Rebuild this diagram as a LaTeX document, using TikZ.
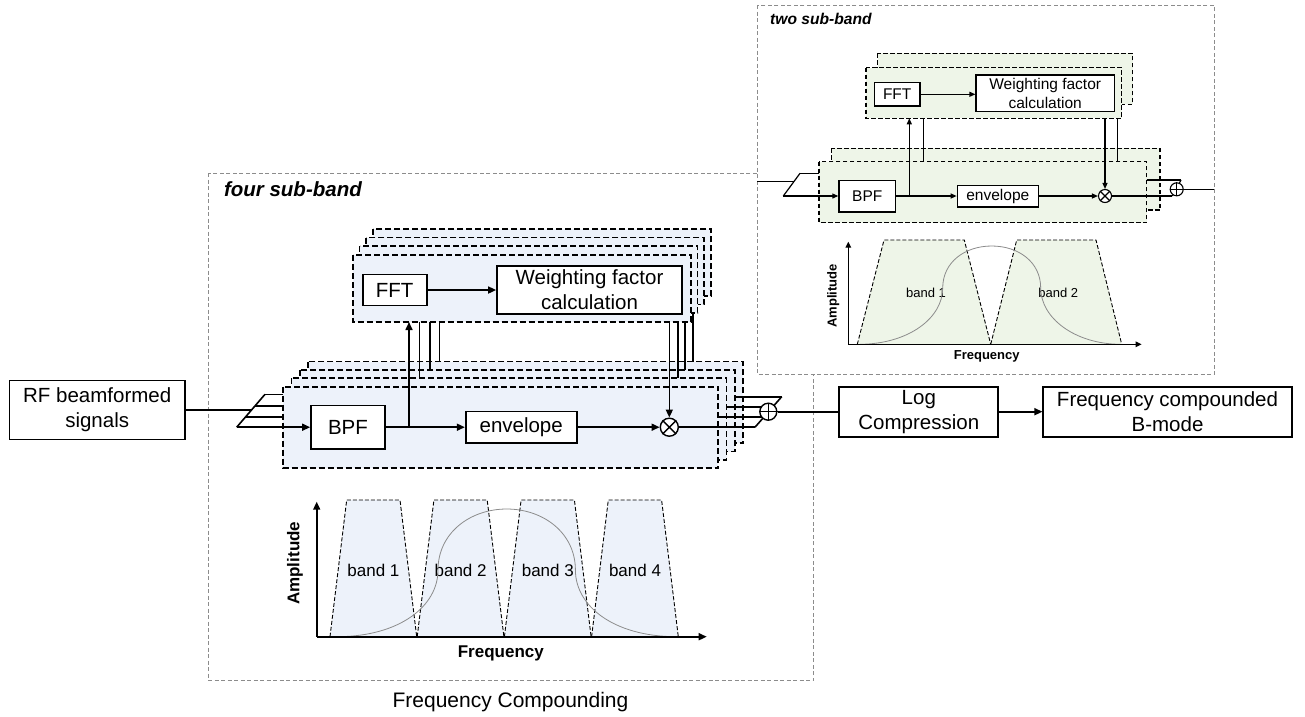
\documentclass[tikz,border=0pt]{standalone}
\usepackage{fontspec}
\setmainfont{Liberation Sans}
\usetikzlibrary{arrows.meta}
\definecolor{bluefill}{HTML}{EDF2FA}
\definecolor{greenfill}{HTML}{EEF5E8}
\definecolor{outergray}{HTML}{8C8C8C}
\definecolor{curvegray}{HTML}{8C8C8C}
\tikzset{
 outerbox/.style={draw=outergray, line width=0.9pt, dash pattern=on 4pt off 2.5pt},
 stackB/.style={fill=bluefill, draw=black, line width=1.7pt, dash pattern=on 6pt off 3pt},
 stackG/.style={fill=greenfill, draw=black, line width=1.3pt, dash pattern=on 4.5pt off 2.5pt},
 fnbig/.style={draw, fill=white, line width=1.7pt, inner sep=0pt, align=center, font=\fontsize{20.5}{25}\selectfont},
 fnsmall/.style={draw, fill=white, line width=1.3pt, inner sep=0pt, align=center, font=\fontsize{15.5}{18.5}\selectfont},
 wire/.style={line width=1.6pt},
 arr/.style={wire, -{Triangle[length=8pt,width=7pt]}},
 wires/.style={line width=1.2pt},
 arrs/.style={wires, -{Triangle[length=6pt,width=5pt]}},
 opbig/.style={circle, draw, fill=white, line width=1.4pt, inner sep=0pt},
 opsmall/.style={circle, draw, fill=white, line width=1.1pt, inner sep=0pt, minimum size=13pt},
 bandline/.style={draw=black, line width=0.9pt, dash pattern=on 4pt off 2pt},
 gauss/.style={draw=curvegray, line width=0.8pt},
 axisbig/.style={line width=1.6pt, -{Triangle[length=8pt,width=7pt]}},
 axissmall/.style={line width=1.3pt, -{Triangle[length=6pt,width=5.5pt]}},
 lblbig/.style={font=\fontsize{17}{20}\selectfont},
 lblsmall/.style={font=\fontsize{13}{16}\selectfont},
}
\begin{document}
\begin{tikzpicture}[x=1pt,y=-1pt]
\useasboundingbox (0,0) rectangle (1305,716);

% ================= four sub-band =================
\draw[outerbox] (208.5,173) rectangle (813.5,680.5);
\node[anchor=base west, font=\fontsize{20.5}{24}\selectfont\bfseries\itshape] (t4) at (220.5,196) {four sub-band};
\node[font=\fontsize{21}{25}\selectfont] (fc) at (510.5,701.7) {Frequency Compounding};

% lower stack
\foreach \i in {3,2,1,0}
  \draw[stackB] ({283.3+8.3*\i},{386.7-8.4*\i}) rectangle ({718.3+8.3*\i},{468.3-8.4*\i});

% vertical connections between stacks
\coordinate (u1) at (419.3,300); \coordinate (l1) at (419.3,378.3);
\coordinate (u2) at (430,300);   \coordinate (l2) at (430,369.9);
\coordinate (u3) at (439.3,300); \coordinate (l3) at (439.3,361.5);
\coordinate (u4) at (677.7,300); \coordinate (l4) at (677.7,378.3);
\coordinate (u5) at (685,300);   \coordinate (l5) at (685,369.9);
\coordinate (u6) at (692.7,300); \coordinate (l6) at (692.7,361.5);
\foreach \k in {1,...,6} \draw[wire] (u\k) -- (l\k);

% upper stack
\foreach \i in {3,2,1,0}
  \draw[stackB] ({352.7+6.8*\i},{255-8.7*\i}) rectangle ({690.7+6.8*\i},{322-8.7*\i});

% function nodes
\node[fnbig, minimum width=175.7pt, minimum height=59pt] (rf) at (97.2,410) {RF beamformed\\signals};
\node[fnbig, minimum width=64pt, minimum height=31pt] (fft4) at (394.7,290) {FFT};
\node[fnbig, minimum width=185pt, minimum height=48pt] (w4) at (589.5,290) {Weighting factor\\calculation};
\node[fnbig, minimum width=74pt, minimum height=43.3pt] (bpf4) at (348,427.2) {BPF};
\node[fnbig, minimum width=111pt, minimum height=31.7pt] (env4) at (521.2,427.2) {envelope};
\node[opbig, minimum size=18pt] (mul4) at (669.3,427.2) {};
\draw[line width=1.4pt] (mul4.north west) -- (mul4.south east) (mul4.north east) -- (mul4.south west);
\node[fnbig, minimum width=159pt, minimum height=50pt] (log) at (918.8,411.7) {Log\\Compression};
\node[fnbig, minimum width=248.4pt, minimum height=50pt] (out) at (1167.5,411.7) {Frequency compounded\\B-mode};

\draw[arr] (fft4.east) -- (w4.west |- fft4.east);

% input splitter
\coordinate (j4) at (251.3,410);
\coordinate (in4a) at (265,394.3);
\coordinate (in4d) at (236.7,427.2);
\draw[wire] (rf.east) -- (j4);
\draw[wire] (in4a) -- (in4d);
\draw[wire] (in4a) -- (283.3,394.3);
\draw[wire] (255.3,405.7) -- (283.3,405.7);
\draw[wire] (246,416.7) -- (283.3,416.7);
\draw[arr] (in4d) -- (bpf4.west);

% main path
\coordinate (br4) at (409,427.2);
\coordinate (fftin4) at (409,322);
\coordinate (wout4) at (669.3,322);
\draw[arr] (bpf4.east) -- (env4.west);
\draw[arr] (br4) -- (fftin4);
\draw[arr] (env4.east) -- (mul4.west);
\draw[arr] (wout4) -- (mul4.north);

% output combiner
\coordinate (s4a) at (781.7,396.7);
\coordinate (s4d) at (755,427.2);
\draw[wire] (mul4.east) -- (s4d);
\draw[wire] (s4a) -- (s4d);
\draw[wire] (734.9,396.7) -- (s4a);
\draw[wire] (726.6,406.7) -- (772.9,406.7);
\draw[wire] (718.3,416.7) -- (763.9,416.7);
\node[opbig, minimum size=17pt] (sum4) at (768.3,411.7) {};
\draw[line width=1.4pt] (sum4.north) -- (sum4.south) (sum4.west) -- (sum4.east);
\draw[wire] (sum4.east) -- (log.west);
\draw[arr] (log.east) -- (out.west);

% chart (four bands)
\foreach \k/\t in {0/band 1,1/band 2,2/band 3,3/band 4}{
  \pgfmathsetmacro\bl{330+87.2*\k}
  \draw[bandline, fill=bluefill] (\bl,636.7) -- (\bl+16.7,500) -- (\bl+70,500) -- (\bl+86.7,636.7);
  \node[lblbig] (b4\k) at (\bl+43.4,570) {\t};
}
\draw[gauss] (338,636.7) .. controls (400,636.2) and (438,606) .. (438,570)
  .. controls (438,533) and (470,509) .. (506.7,509)
  .. controls (543.4,509) and (575.4,533) .. (575.4,570)
  .. controls (575.4,606) and (613.4,636.2) .. (675.4,636.7);
\coordinate (o4) at (316.7,636.7);
\coordinate (ya4) at (316.7,501.7);
\coordinate (xa4) at (706.7,636.7);
\draw[axisbig] (o4) -- (ya4);
\draw[axisbig] (o4) -- (xa4);
\node[font=\fontsize{17}{20}\selectfont\bfseries, rotate=90] (amp4) at (295,563.3) {Amplitude};
\node[font=\fontsize{17}{20}\selectfont\bfseries] (fq4) at (500.8,653.3) {Frequency};

% ================= two sub-band =================
\draw[outerbox, fill=white] (757.3,5) rectangle (1214.3,374.3);
\node[anchor=base west, font=\fontsize{15.6}{19}\selectfont\bfseries\itshape] (t2) at (766.7,24) {two sub-band};

\draw[stackG] (831.7,148.3) rectangle (1160,210);
\draw[stackG] (819,161.7) rectangle (1146.7,222.7);
\coordinate (v1a) at (923.3,110); \coordinate (v1b) at (923.3,161.7);
\coordinate (v2a) at (1117.7,110); \coordinate (v2b) at (1117.7,161.7);
\draw[wires] (v1a) -- (v1b);
\draw[wires] (v2a) -- (v2b);
\draw[stackG] (877.7,53.3) rectangle (1132.7,104.3);
\draw[stackG] (866,67.7) rectangle (1121.7,118.3);

\node[fnsmall, minimum width=45.7pt, minimum height=23.4pt] (fft2) at (897.2,94.3) {FFT};
\node[fnsmall, minimum width=138.3pt, minimum height=36.7pt] (w2) at (1045.2,93.3) {Weighting factor\\calculation};
\node[fnsmall, minimum width=56.7pt, minimum height=31.7pt] (bpf2) at (867.3,196) {BPF};
\node[fnsmall, minimum width=81pt, minimum height=21.7pt] (env2) at (997.8,196) {envelope};
\node[opsmall] (mul2) at (1105,196) {};
\draw[line width=1.1pt] (mul2.north west) -- (mul2.south east) (mul2.north east) -- (mul2.south west);

\draw[arrs] (fft2.east) -- (w2.west |- fft2.east);

\coordinate (j2) at (793.8,181.7);
\coordinate (in2a) at (800,173.3);
\coordinate (in2d) at (783.3,196);
\draw[wires] (757.3,181.7) -- (j2);
\draw[wires] (in2a) -- (in2d);
\draw[wires] (in2a) -- (819,173.3);
\draw[arrs] (in2d) -- (bpf2.west);
\coordinate (br2) at (909.3,196);
\coordinate (fftin2) at (909.3,118.3);
\coordinate (wout2) at (1105,118.3);
\draw[arrs] (bpf2.east) -- (env2.west);
\draw[arrs] (br2) -- (fftin2);
\draw[arrs] (env2.east) -- (mul2.west);
\draw[arrs] (wout2) -- (mul2.north);

\coordinate (s2a) at (1181,180);
\coordinate (s2d) at (1172.4,196);
\draw[wires] (mul2.east) -- (s2d);
\draw[wires] (s2a) -- (s2d);
\draw[wires] (1146.7,180) -- (s2a);
\node[opsmall] (sum2) at (1176.7,189.3) {};
\draw[line width=1.1pt] (sum2.north) -- (sum2.south) (sum2.west) -- (sum2.east);
\coordinate (e2) at (1214.3,189.3);
\draw[wires] (sum2.east) -- (e2);

% chart (two bands)
\draw[bandline, fill=greenfill] (857.3,344.3) -- (884,240) -- (964.3,240) -- (990.7,344.3);
\draw[bandline, fill=greenfill] (990.7,344.3) -- (1016.7,240) -- (1096,240) -- (1121.7,344.3);
\node[lblsmall] (b21) at (926,293.3) {band 1};
\node[lblsmall] (b22) at (1058.3,293.3) {band 2};
\draw[gauss] (860,344.3) .. controls (908.7,343.9) and (942.7,318) .. (942.7,288)
  .. controls (942.7,262) and (965,246) .. (991.7,246)
  .. controls (1018.4,246) and (1040.7,262) .. (1040.7,288)
  .. controls (1040.7,318) and (1074.7,343.9) .. (1120,344.3);
\coordinate (o2) at (848.3,344.3);
\coordinate (ya2) at (848.3,241.7);
\coordinate (xa2) at (1141.7,344.3);
\draw[axissmall] (o2) -- (ya2);
\draw[axissmall] (o2) -- (xa2);
\node[font=\fontsize{13}{16}\selectfont\bfseries, rotate=90] (amp2) at (833.3,296) {Amplitude};
\node[font=\fontsize{13}{16}\selectfont\bfseries] (fq2) at (986.7,356.7) {Frequency};

\end{tikzpicture}
\end{document}
